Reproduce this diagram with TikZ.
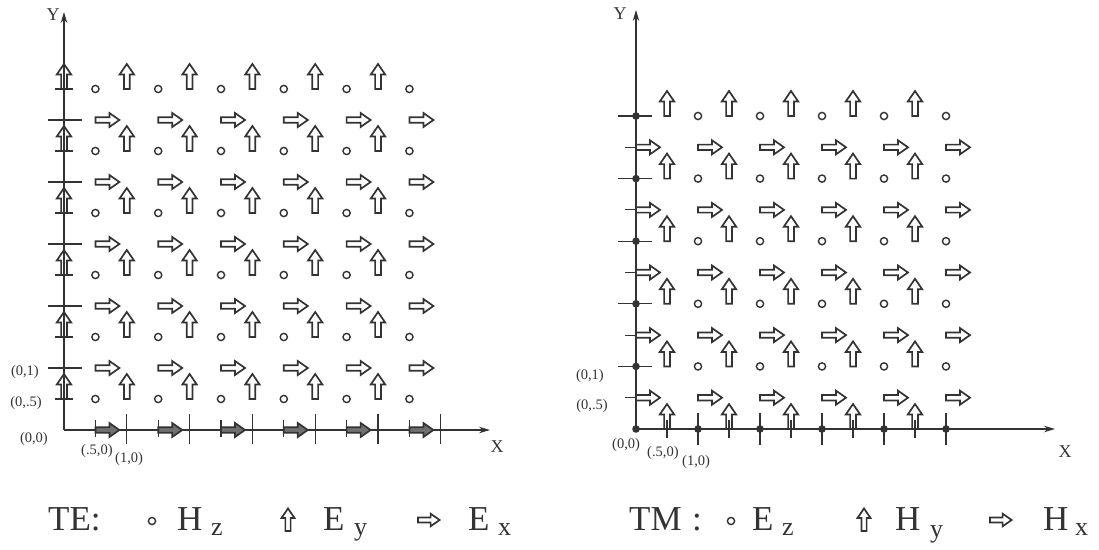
\documentclass[tikz,border=0pt]{standalone}
\usepackage{fontspec}
\setmainfont{Liberation Serif}
\usetikzlibrary{arrows.meta}
\definecolor{ink}{HTML}{333333}
\tikzset{
  axisline/.style={draw=ink, line width=1.2pt, -{Stealth[length=11pt,width=6.5pt]}},
  tickline/.style={draw=ink, line width=1.1pt},
  fld/.style={draw=ink, line width=1.7pt, line join=miter},
  hz/.style={draw=ink, line width=1.4pt},
  dotpt/.style={fill=ink},
  lab/.style={font=\fontsize{14.5}{15}\selectfont, text=ink, inner sep=0pt},
  axlab/.style={font=\fontsize{18}{18}\selectfont, text=ink, inner sep=0pt},
  leg/.style={font=\fontsize{35}{35}\selectfont, text=ink, inner sep=0pt, anchor=base west},
  legsub/.style={font=\fontsize{26}{26}\selectfont, text=ink, inner sep=0pt, anchor=base west},
  uarr/.pic={\draw[fld,pic actions] (-2.9,0) -- (-2.9,-14.5) -- (-7.2,-14.5) -- (0,-25) -- (7.2,-14.5) -- (2.9,-14.5) -- (2.9,0) -- cycle;},
  rarr/.pic={\draw[fld,pic actions] (0,-2.7) -- (14,-2.7) -- (14,-7) -- (24,0) -- (14,7) -- (14,2.7) -- (0,2.7) -- cycle;}
}
\begin{document}
\begin{tikzpicture}[x=1pt,y=-1pt]
\useasboundingbox (0,0) rectangle (1099,549);

% ================= LEFT (TE) =================
\coordinate (O1) at (64,430);
\coordinate (Y1) at (64,12);
\coordinate (X1) at (490,430);
\draw[axisline] (O1) -- (Y1);
\draw[axisline] (O1) -- (X1);
\node[axlab] (Y1lab) at (53,15) {Y};
\node[axlab] (X1lab) at (497,447) {X};
% ticks
\foreach \j in {1,...,5}{
  \draw[tickline] (48,{430-62*\j}) -- (82,{430-62*\j});
}
\foreach \j in {0,...,5}{
  \draw[tickline] (55,{430-62*(\j+0.5)}) -- (73,{430-62*(\j+0.5)});
}
\foreach \i in {1,...,6}{
  \draw[tickline] ({64+62.8*\i},414) -- ({64+62.8*\i},444);
}
\foreach \i in {0,...,5}{
  \draw[tickline] ({64+62.8*(\i+0.5)},420) -- ({64+62.8*(\i+0.5)},437);
}
% fields
\foreach \i in {0,...,5}{
  \foreach \j in {0,...,5}{
    \draw[hz] ({64+62.8*(\i+0.5)},{430-62*(\j+0.5)}) circle[radius=3.6];
    \pic at ({64+62.8*\i},{430-62*(\j+0.5)}) {uarr};
  }
  \foreach \j in {1,...,5}{
    \pic at ({64+62.8*(\i+0.5)},{430-62*\j}) {rarr};
  }
  \pic[fill=ink!70] at ({64+62.8*(\i+0.5)},430) {rarr};
}
% labels
\node[lab,anchor=east] (L01) at (39,372) {(0,1)};
\node[lab,anchor=east] (L005) at (42,403) {(0,.5)};
\node[lab,anchor=east] (L00) at (48,439) {(0,0)};
\node[lab,anchor=west] (L050) at (81,451) {(.5,0)};
\node[lab,anchor=west] (L10) at (115,459) {(1,0)};

% ================= RIGHT (TM) =================
\coordinate (O2) at (636,429);
\coordinate (Y2) at (636,10);
\coordinate (X2) at (1055,429);
\draw[axisline] (O2) -- (Y2);
\draw[axisline] (O2) -- (X2);
\node[axlab] (Y2lab) at (620,14) {Y};
\node[axlab] (X2lab) at (1065,452) {X};
\foreach \j in {1,...,5}{
  \draw[tickline] (618,{429-62.6*\j}) -- (652,{429-62.6*\j});
}
\foreach \j in {0,...,4}{
  \draw[tickline] (625,{429-62.6*(\j+0.5)}) -- (636,{429-62.6*(\j+0.5)});
}
\foreach \i in {1,...,5}{
  \draw[tickline] ({636+62*\i},413) -- ({636+62*\i},445);
}
\foreach \i in {0,...,4}{
  \draw[tickline] ({636+62*(\i+0.5)},420) -- ({636+62*(\i+0.5)},438);
}
% boundary dots
\fill[dotpt] (636,429) circle[radius=3.8];
\foreach \k in {1,...,5}{
  \fill[dotpt] (636,{429-62.6*\k}) circle[radius=3.8];
  \fill[dotpt] ({636+62*\k},429) circle[radius=3.8];
}
% Ez circles
\foreach \i in {1,...,5}{
  \foreach \j in {1,...,5}{
    \draw[hz] ({636+62*\i},{429-62.6*\j}) circle[radius=3.6];
  }
}
% Hy up arrows
\foreach \i in {0,...,4}{
  \foreach \j in {0,...,5}{
    \pic at ({636+62*(\i+0.5)},{429-62.6*\j}) {uarr};
  }
}
% Hx right arrows
\foreach \i in {0,...,5}{
  \foreach \j in {0,...,4}{
    \pic at ({636+62*\i},{429-62.6*(\j+0.5)}) {rarr};
  }
}
\node[lab,anchor=east] (R01) at (604,376) {(0,1)};
\node[lab,anchor=east] (R005) at (608,406) {(0,.5)};
\node[lab,anchor=west] (R00) at (612,445) {(0,0)};
\node[lab,anchor=west] (R050) at (647,453) {(.5,0)};
\node[lab,anchor=west] (R10) at (682,462) {(1,0)};

% ================= LEGENDS =================
\node[leg] (te) at (48,530) {TE:};
\draw[hz] (152,521) circle[radius=3.6];
\node[leg] (teH) at (177,530) {H};
\node[legsub] (tez) at (211,535) {z};
\pic[scale=0.9] at (288,531) {uarr};
\node[leg] (teE1) at (323,530) {E};
\node[legsub] (tey) at (354,535) {y};
\pic[scale=0.9] at (418,520) {rarr};
\node[leg] (teE2) at (468,530) {E};
\node[legsub] (tex) at (498,535) {x};

\node[leg] (tm) at (629,530) {TM};
\node[leg] (tmc) at (692,530) {:};
\draw[hz] (731,521) circle[radius=3.6];
\node[leg] (tmE) at (752,530) {E};
\node[legsub] (tmz) at (782,535) {z};
\pic[scale=0.9] at (864,531) {uarr};
\node[leg] (tmH1) at (895,530) {H};
\node[legsub] (tmy) at (930,537) {y};
\pic[scale=0.9] at (990,520) {rarr};
\node[leg] (tmH2) at (1043,530) {H};
\node[legsub] (tmx) at (1075,535) {x};
\end{tikzpicture}
\end{document}
